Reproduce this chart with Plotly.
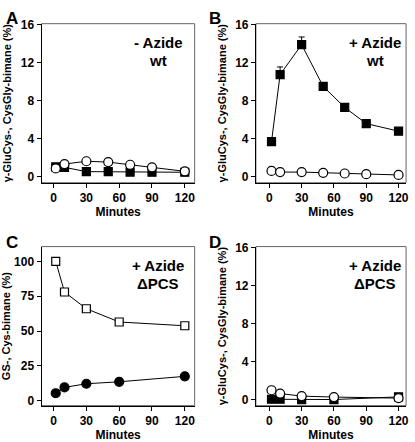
import plotly.graph_objects as go

# ---- data ----
t_wt = [2, 10, 30, 50, 70, 90, 120]
a_sq = [1.05, 1.0, 0.55, 0.55, 0.5, 0.48, 0.48]
a_ci = [0.88, 1.34, 1.64, 1.55, 1.27, 1.0, 0.58]
b_sq = [3.7, 10.75, 13.9, 9.5, 7.3, 5.6, 4.8]
b_sq_err = [0, 0.8, 0.8, 0, 0, 0, 0]
b_ci = [0.62, 0.5, 0.5, 0.42, 0.35, 0.28, 0.2]
t_pcs = [2, 10, 30, 60, 120]
c_sq = [100, 78, 66, 56.5, 53.8]
c_ci = [5.4, 9.6, 12.2, 13.6, 17.5]
d_ci = [1.0, 0.65, 0.38, 0.28, 0.17]
d_sq = [0.05, 0.05, 0.02, 0.02, 0.3]
xticks = [0, 30, 60, 90, 120]
yticks_small = [0, 4, 8, 12, 16]
yticks_c = [0, 25, 50, 75, 100]

W, H = 415, 442
FONT = "Liberation Sans"

def px(x):
    return x / W
def py(y):
    return 1 - y / H

panels = {
    "A": dict(xd=[px(40), px(195)], yd=[py(180), py(18)], xr=[-11, 129], yr=[-0.62, 16.1], yt=yticks_small,
              ytitle="γ-GluCys-, CysGly-bimane (%)"),
    "B": dict(xd=[px(257), px(409)], yd=[py(180), py(18)], xr=[-12.5, 127], yr=[-0.62, 16.1], yt=yticks_small,
              ytitle="γ-GluCys-, CysGly-bimane (%)"),
    "C": dict(xd=[px(40), px(195)], yd=[py(407), py(245)], xr=[-11, 129], yr=[-3.5, 110.6], yt=yticks_c,
              ytitle="GS-, Cys-bimane (%)"),
    "D": dict(xd=[px(257), px(409)], yd=[py(407), py(245)], xr=[-12.5, 127], yr=[-0.62, 16.1], yt=yticks_small,
              ytitle="γ-GluCys-, CysGly-bimane (%)"),
}

fig = go.Figure()
layout = {}
shapes = []
annotations = []

def line_trace(x, y, k, symbol, fill, err=None):
    kw = {}
    if err is not None:
        kw["error_y"] = dict(type="data", array=err, arrayminus=[0] * len(err), symmetric=False,
                             color="black", thickness=1, width=3)
    return go.Scatter(x=x, y=y, mode="lines+markers", xaxis="x" + k, yaxis="y" + k,
                      line=dict(color="black", width=1),
                      marker=dict(symbol=symbol, size=9 if "circle" in symbol else 8,
                                  color="black" if fill else "white",
                                  line=dict(color="black", width=1.2)),
                      showlegend=False, cliponaxis=False, **kw)

fig.add_trace(line_trace(t_wt, a_sq, "", "square", True))
fig.add_trace(line_trace(t_wt, a_ci, "", "circle", False))
fig.add_trace(line_trace(t_wt, b_sq, "2", "square", True, b_sq_err))
fig.add_trace(line_trace(t_wt, b_ci, "2", "circle", False))
fig.add_trace(line_trace(t_pcs, c_sq, "3", "square", False))
fig.add_trace(line_trace(t_pcs, c_ci, "3", "circle", True))
fig.add_trace(line_trace(t_pcs, d_sq, "4", "square", True))
fig.add_trace(line_trace(t_pcs, d_ci, "4", "circle", False))

keys = {"A": "", "B": "2", "C": "3", "D": "4"}
tickfont = dict(family=FONT, size=12, color="black", weight="bold")
for name, p in panels.items():
    k = keys[name]
    layout["xaxis" + k] = dict(domain=p["xd"], range=p["xr"], anchor="y" + k, tickvals=xticks,
                               showgrid=False, zeroline=False, showline=True, linecolor="black",
                               linewidth=1, ticks="outside", ticklen=4, tickcolor="black",
                               tickfont=tickfont,
                               title=dict(text="Minutes", font=dict(family=FONT, size=12, color="black", weight="bold"),
                                          standoff=3))
    layout["yaxis" + k] = dict(domain=p["yd"], range=p["yr"], anchor="x" + k, tickvals=p["yt"],
                               showgrid=False, zeroline=False, showline=True, linecolor="black",
                               linewidth=1, ticks="outside", ticklen=4, tickcolor="black",
                               tickfont=tickfont,
                               title=dict(text=p["ytitle"], font=dict(family=FONT, size=11, color="black", weight="bold"),
                                          standoff=6))
    shapes.append(dict(type="rect", xref="x" + k + " domain" if k else "x domain",
                       yref="y" + k + " domain" if k else "y domain",
                       x0=0, x1=1, y0=0, y1=1, line=dict(color="#666666", width=1), layer="below"))

# panel letters
for name, (xl, yl) in {"A": (2, 1), "B": (207, 1), "C": (2, 229), "D": (207, 229)}.items():
    annotations.append(dict(text="<b>%s</b>" % name, x=px(xl), y=py(yl), xref="paper", yref="paper",
                            xanchor="left", yanchor="top", showarrow=False,
                            font=dict(family=FONT, size=17, color="black")))

labels = [("- Azide", "wt", 158, 37, 55), ("+ Azide", "wt", 378, 37, 55),
          ("+ Azide", "ΔPCS", 158, 264, 283), ("+ Azide", "ΔPCS", 378, 264, 283)]
for l1, l2, xc, y1, y2 in labels:
    for txt, yy in ((l1, y1), (l2, y2)):
        annotations.append(dict(text="<b>%s</b>" % txt, x=px(xc), y=py(yy), xref="paper", yref="paper",
                                xanchor="center", yanchor="middle", showarrow=False,
                                font=dict(family=FONT, size=15, color="black")))

fig.update_layout(width=W, height=H, margin=dict(l=0, r=0, t=0, b=0),
                  paper_bgcolor="white", plot_bgcolor="white",
                  shapes=shapes, annotations=annotations, **layout)
fig.write_html("out.html", config={"displayModeBar": False},
               post_script="document.body.style.margin='0';document.body.style.overflow='hidden';")
